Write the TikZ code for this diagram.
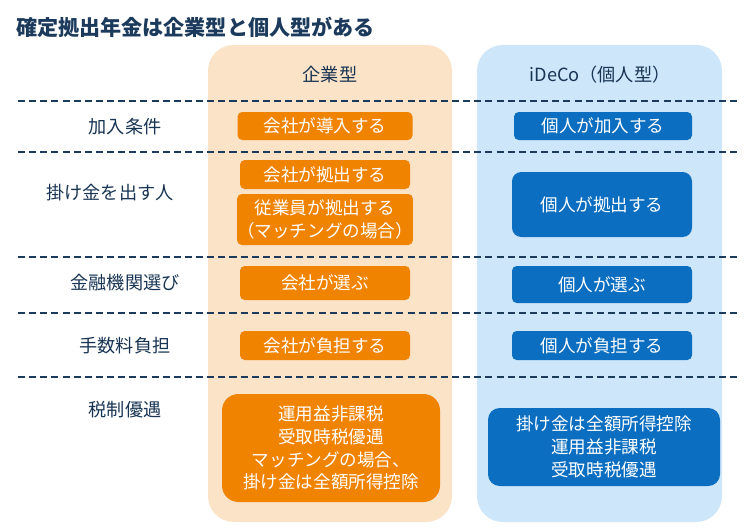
\documentclass[tikz,border=0pt]{standalone}
\usepackage{fontspec}
\setmainfont{Noto Sans CJK JP}
\definecolor{navy}{HTML}{1B3A5C}
\definecolor{peach}{HTML}{FBE3C8}
\definecolor{sky}{HTML}{CDE6FA}
\definecolor{kigyo}{HTML}{F08300}
\definecolor{kojin}{HTML}{0B6EC0}
\begin{document}
\begin{tikzpicture}[x=0.03cm,y=-0.03cm]

    \tikzset{
      column/.style={rounded corners=22pt,draw=none},
      sep/.style={draw=navy,line width=1.6pt,dash pattern=on 6pt off 3.5pt},
      rowlabel/.style={text=navy!90!black,font=\fontsize{15.5}{19}\selectfont,anchor=center},
      obox/.style={fill=kigyo,text=white,rounded corners=4pt,align=center,
        font=\fontsize{15}{19.5}\selectfont,inner sep=0pt},
      bbox/.style={fill=kojin,text=white,rounded corners=4pt,align=center,
        font=\fontsize{15}{19.5}\selectfont,inner sep=0pt},
    }
    \useasboundingbox (0,0) rectangle (753,529);

	\fill[color=peach,column] (208,45) rectangle (452,522);
	\fill[color=sky,column] (477,45) rectangle (722,522);
	\node[anchor=west,text=navy,font=\bfseries\fontsize{18}{21}\selectfont] (title) at (12,27) {確定拠出年金は企業型と個人型がある};
	\node[rowlabel] (hkigyo) at (330,75) {企業型};
	\node[rowlabel] (hkojin) at (600,75) {iDeCo（個人型）};
	\foreach \y in {101,152,257,313,377}
	  \draw[sep] (18,\y)--(738,\y);
	\node[rowlabel] (r1) at (125,127) {加入条件};
	\node[rowlabel] (r2) at (110,193) {掛け金を出す人};
	\node[rowlabel] (r3) at (125,283) {金融機関選び};
	\node[rowlabel] (r4) at (125,346) {手数料負担};
	\node[rowlabel] (r5) at (125,410) {税制優遇};

	\node[obox,minimum width=175*0.03cm,minimum height=28*0.03cm] (o1) at (325,126) {会社が導入する};
	\node[obox,minimum width=170*0.03cm,minimum height=29*0.03cm] (o2) at (325,174.5) {会社が拠出する};
	\node[obox,minimum width=170*0.03cm,minimum height=51*0.03cm] (o3) at (325,219.5) {従業員が拠出する\\（マッチングの場合）};
	\node[obox,minimum width=170*0.03cm,minimum height=34*0.03cm] (o4) at (325,283) {会社が選ぶ};
	\node[obox,minimum width=170*0.03cm,minimum height=29*0.03cm] (o5) at (325,345.5) {会社が負担する};
	\node[obox,rounded corners=14pt,minimum width=218*0.03cm,minimum height=108*0.03cm] (o6) at (331,448) {運用益非課税\\受取時税優遇\\マッチングの場合、\\掛け金は全額所得控除};

	\node[bbox,minimum width=178*0.03cm,minimum height=28*0.03cm] (b1) at (603,126) {個人が加入する};
	\node[bbox,rounded corners=8pt,minimum width=180*0.03cm,minimum height=65*0.03cm] (b2) at (602,204.5) {個人が拠出する};
	\node[bbox,minimum width=180*0.03cm,minimum height=37*0.03cm] (b3) at (602,284.5) {個人が選ぶ};
	\node[bbox,minimum width=180*0.03cm,minimum height=29*0.03cm] (b4) at (602,345.5) {個人が負担する};
	\node[bbox,rounded corners=10pt,minimum width=232*0.03cm,minimum height=78*0.03cm] (b5) at (604,447) {掛け金は全額所得控除\\運用益非課税\\受取時税優遇};

\end{tikzpicture}
\end{document}
